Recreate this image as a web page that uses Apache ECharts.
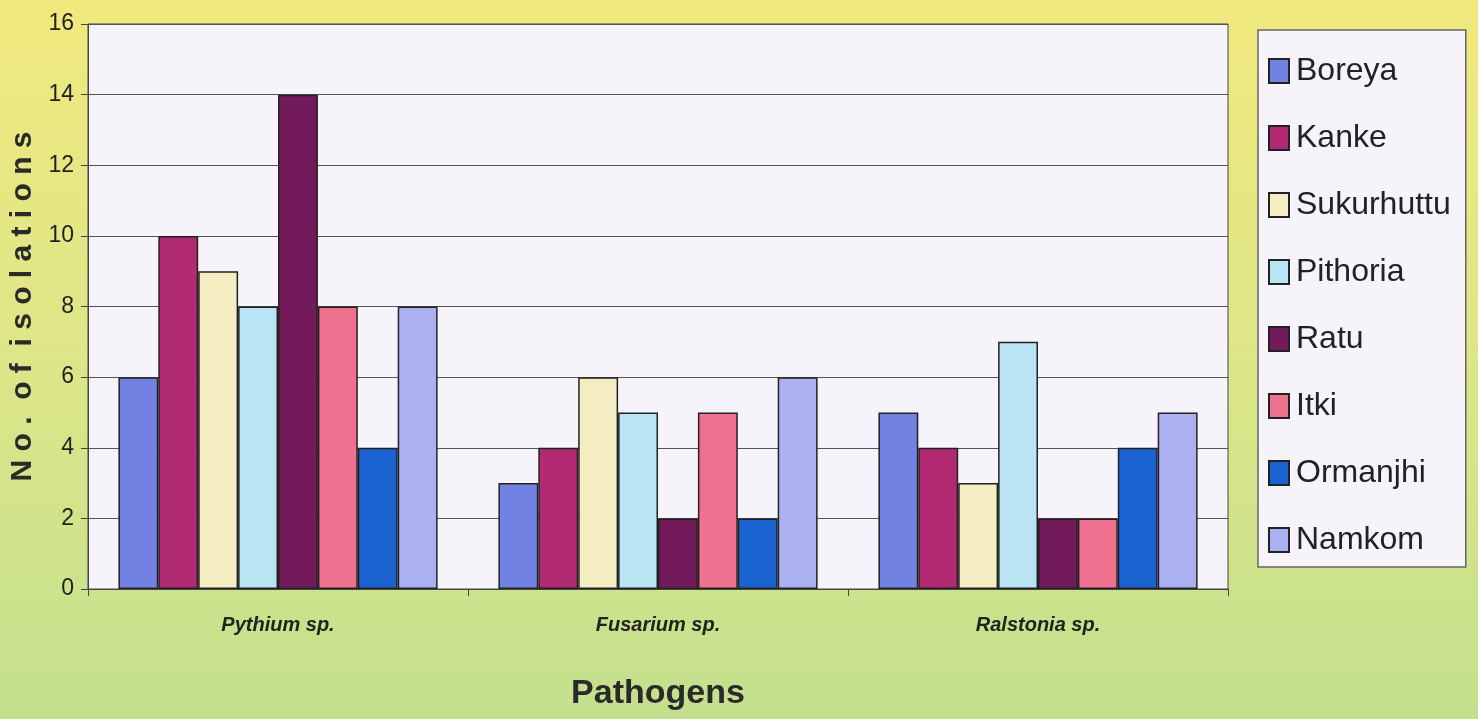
<!DOCTYPE html>
<html>
<head>
<meta charset="utf-8">
<script src="https://cdn.jsdelivr.net/npm/echarts@6/dist/echarts.min.js"></script>
<style>
  html, body { margin: 0; padding: 0; }
  #chart { width: 1478px; height: 719px; }
</style>
</head>
<body>
<div id="chart"></div>
<script>
// pathogens on the x axis
const pathogens = ['Pythium sp.', 'Fusarium sp.', 'Ralstonia sp.']
// one series per location
const locations = ['Boreya', 'Kanke', 'Sukurhuttu', 'Pithoria', 'Ratu', 'Itki', 'Ormanjhi', 'Namkom']
const boreya = [6, 3, 5]
const kanke = [10, 4, 4]
const sukurhuttu = [9, 6, 3]
const pithoria = [8, 5, 7]
const ratu = [14, 2, 2]
const itki = [8, 5, 2]
const ormanjhi = [4, 2, 4]
const namkom = [8, 6, 5]
const yTicks = [0, 2, 4, 6, 8, 10, 12, 14, 16]

const values = [boreya, kanke, sukurhuttu, pithoria, ratu, itki, ormanjhi, namkom]
const colors = ['#7282e2', '#b22a72', '#f5edc2', '#bae4f4', '#721a5a', '#f07090', '#1a62d0', '#aab0f0']
const font = "'Liberation Sans Narrow', 'Liberation Sans', Arial, sans-serif"

const chart = echarts.init(document.getElementById('chart'))
chart.setOption({
  backgroundColor: {
    type: 'linear', x: 0, y: 0, x2: 0, y2: 1,
    colorStops: [
      { offset: 0, color: '#f1e97e' },
      { offset: 0.5, color: '#dde688' },
      { offset: 1, color: '#c3e08e' }
    ]
  },
  textStyle: { fontFamily: font },
  grid: {
    left: 88, top: 24, width: 1140, height: 565,
    outerBoundsMode: 'none',
    containLabel: false,
    show: true,
    backgroundColor: '#f6f4fa',
    borderColor: '#444',
    borderWidth: 1
  },
  legend: {
    orient: 'vertical',
    left: 1258,
    top: 30,
    padding: [25, 15, 11, 10],
    itemGap: 35,
    itemWidth: 20,
    itemHeight: 24,
    icon: 'rect',
    backgroundColor: '#f6f4fa',
    borderColor: '#666',
    borderWidth: 1.5,
    textStyle: { fontSize: 32, color: '#222', fontFamily: font, padding: [0, 0, 0, 2] },
    data: locations
  },
  xAxis: {
    type: 'category',
    data: pathogens,
    name: 'Pathogens',
    nameLocation: 'middle',
    nameGap: 88,
    nameTextStyle: { fontSize: 34, fontWeight: 'bold', color: '#2a2a2a', fontFamily: font },
    axisLine: { lineStyle: { color: '#444', width: 1 } },
    axisTick: { show: true, length: 7, lineStyle: { color: '#444' } },
    axisLabel: {
      fontSize: 20, fontWeight: 'bold', fontStyle: 'italic', color: '#222',
      margin: 26, fontFamily: font
    }
  },
  yAxis: {
    type: 'value',
    min: 0, max: 16, interval: 2,
    name: 'N o .  o f  i s o l a t i o n s',
    nameLocation: 'middle',
    nameGap: 46,
    nameTextStyle: { fontSize: 30, fontWeight: 'bold', color: '#2a2a2a', fontFamily: 'Liberation Sans, Arial, sans-serif' },
    axisLine: { show: true, lineStyle: { color: '#444' } },
    axisTick: { show: true, length: 7, lineStyle: { color: '#444' } },
    axisLabel: {
      fontSize: 23, color: '#222', margin: 14, fontFamily: font,
      formatter: v => yTicks.includes(v) ? String(v) : ''
    },
    splitLine: { lineStyle: { color: '#555', width: 1 } }
  },
  series: locations.map((name, i) => ({
    name: name,
    type: 'bar',
    data: values[i],
    barGap: '0%',
    barCategoryGap: '16%',
    itemStyle: { color: colors[i], borderColor: '#222', borderWidth: 1.5 }
  }))
})
</script>
</body>
</html>
